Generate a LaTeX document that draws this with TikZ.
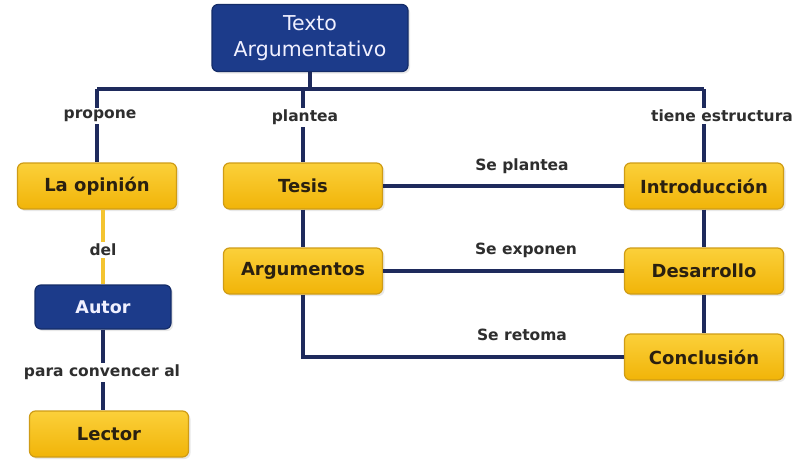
\documentclass[tikz,border=0pt]{standalone}
\usepackage{fontspec}
\setmainfont{DejaVu Sans}
\usetikzlibrary{shadows}
\definecolor{navy}{HTML}{1E2A5C}
\definecolor{boxblue}{HTML}{1C3B8A}
\definecolor{boxblueb}{HTML}{142C68}
\definecolor{ytop}{HTML}{FBD03A}
\definecolor{ybot}{HTML}{F1B408}
\definecolor{yborder}{HTML}{CF9C16}
\definecolor{yline}{HTML}{F4C430}
\definecolor{txt}{HTML}{2A2010}
\definecolor{lbltxt}{HTML}{2E2E2E}
\begin{document}
\begin{tikzpicture}[x=1pt,y=-1pt,
  ybox/.style={draw=yborder, line width=1.2pt, rounded corners=6pt,
    top color=ytop, bottom color=ybot, minimum width=159pt, minimum height=46pt,
    font=\fontsize{18}{21}\selectfont\bfseries, text=txt, inner sep=0pt,
    drop shadow={opacity=0.18, shadow xshift=2pt, shadow yshift=-2pt}},
  bbox/.style={draw=boxblueb, line width=1.2pt, rounded corners=6pt,
    fill=boxblue, text=white!94!blue, inner sep=0pt,
    drop shadow={opacity=0.18, shadow xshift=2pt, shadow yshift=-2pt}},
  conn/.style={draw=navy, line width=4pt},
  yconn/.style={draw=yline, line width=4pt},
  lbl/.style={fill=white, inner sep=2pt, font=\fontsize{15.5}{18}\selectfont\bfseries, text=lbltxt}
]
\useasboundingbox (0,0) rectangle (795,461);
\fill[white] (0,0) rectangle (795,461);

% nodes
\node[bbox, minimum width=196pt, minimum height=67pt, align=center,
      font=\fontsize{20.5}{26}\selectfont] (title) at (310,38) {Texto\\Argumentativo};
\node[ybox] (opinion) at (97,186) {La opinión};
\node[ybox] (tesis) at (303,186) {Tesis};
\node[ybox] (intro) at (704,186) {Introducción};
\node[ybox] (arg) at (303,271) {Argumentos};
\node[ybox] (des) at (704,271) {Desarrollo};
\node[ybox] (conc) at (704,357) {Conclusión};
\node[bbox, minimum width=136pt, minimum height=44pt,
      font=\fontsize{17.5}{20}\selectfont\bfseries] (autor) at (103,307) {Autor};
\node[ybox] (lector) at (109,434) {Lector};

\coordinate (hy) at (0,89);

% connectors
\draw[conn] (title.south) -- (title.south |- hy);
\draw[conn] (opinion.north |- hy) -- (intro.north |- hy);
\draw[conn] (opinion.north |- hy) -- (opinion.north);
\draw[conn] (tesis.north |- hy) -- (tesis.north);
\draw[conn] (intro.north |- hy) -- (intro.north);
\draw[conn] (tesis.east) -- (intro.west);
\draw[conn] (tesis.south) -- (arg.north);
\draw[conn] (intro.south) -- (des.north);
\draw[conn] (arg.east) -- (des.west);
\draw[conn] (des.south) -- (conc.north);
\draw[conn] (arg.south) -- (arg.south |- conc.west) -- (conc.west);
\draw[yconn] (autor.north |- opinion.south) -- (autor.north);
\draw[conn] (autor.south) -- (autor.south |- lector.north);

% labels
\node[lbl] (lpropone) at (100,116) {propone};
\node[lbl] (lplantea) at (305,117) {plantea};
\node[lbl] (ltiene) at (722,116) {tiene estructura};
\node[lbl] (lseplantea) at (522,166) {Se plantea};
\node[lbl] (lexponen) at (526,250) {Se exponen};
\node[lbl] (lretoma) at (522,335) {Se retoma};
\node[lbl] (ldel) at (103,250) {del};
\node[lbl] (lpara) at (102,372) {para convencer al};
\end{tikzpicture}
\end{document}
